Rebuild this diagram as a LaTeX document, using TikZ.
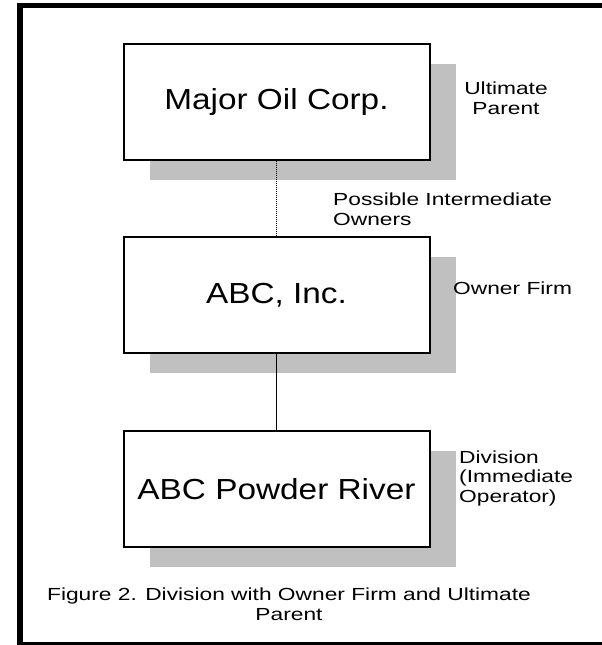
\documentclass[tikz,border=0pt]{standalone}
\usepackage{fontspec}
\setmainfont{Liberation Sans}
\newfontfamily\boxfont[FakeStretch=1.15]{Liberation Sans}
\newfontfamily\notefont[FakeStretch=1.3]{Liberation Sans}
\usetikzlibrary{shadows}
\definecolor{shadowgray}{RGB}{192,192,192}

\begin{document}
\begin{tikzpicture}[x=1pt,y=-1pt,
  firm/.style={draw,line width=2pt,fill=white,minimum width=306pt,minimum height=116pt,inner sep=0pt,
    font=\boxfont\fontsize{29}{34}\selectfont,
    drop shadow={shadow xshift=26pt,shadow yshift=-20pt,fill=shadowgray,opacity=1}},
  note/.style={font=\notefont\fontsize{17.5}{19.5}\selectfont,inner sep=0pt}]
\useasboundingbox (0,0) rectangle (602,645);
\fill[white] (0,0) rectangle (602,645);
\draw[line width=5.5pt] (20,5.7) rectangle (625,644.5);

\node[firm] (major) at (276.5,102) {Major Oil Corp.};
\node[firm] (abc) at (276.5,295) {ABC, Inc.};
\node[firm] (river) at (276.5,489) {ABC Powder River};
\draw[line width=1pt,dash pattern=on 1pt off 1pt] (major) -- (abc);
\draw[line width=1pt] (abc) -- (river);

\node[note,align=center] (ultimate) at (506,98) {Ultimate\\Parent};
\node[note,align=left,anchor=west] (possible) at (333,209) {Possible Intermediate\\Owners};
\node[note,anchor=west] (owner) at (453,288) {Owner Firm};
\node[note,align=left,anchor=west] (division) at (459,478) {Division\\(Immediate\\Operator)};
\node[note,align=center] (caption) at (289,604) {Figure 2. Division with Owner Firm and Ultimate\\Parent};
\end{tikzpicture}
\end{document}
